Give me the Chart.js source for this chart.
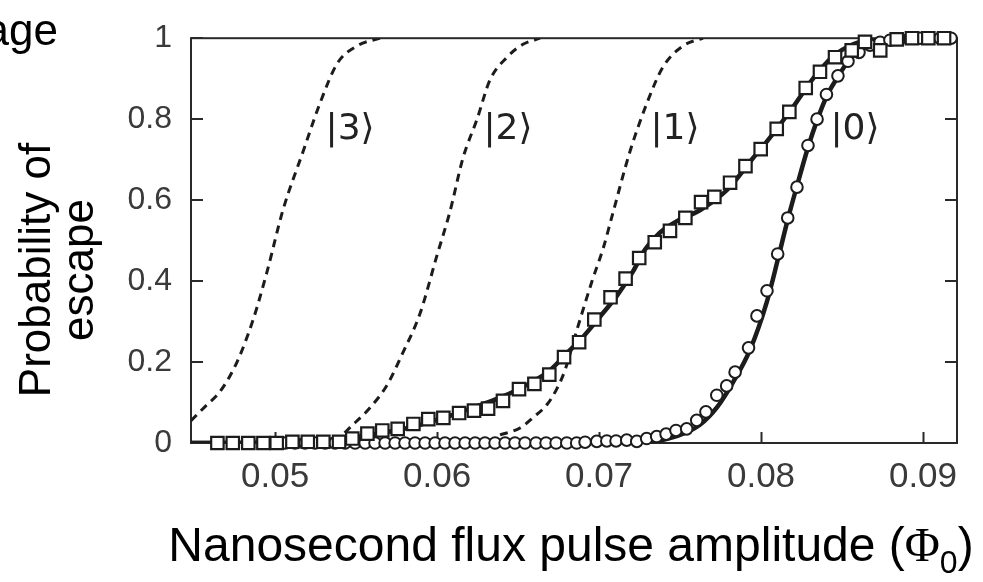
<!DOCTYPE html>
<html>
<head>
<meta charset="utf-8">
<script src="https://cdn.jsdelivr.net/npm/chart.js@4.4.1/dist/chart.umd.min.js"></script>
<style>
html,body{margin:0;padding:0;background:#ffffff;}
#wrap{width:983px;height:582px;position:relative;}
canvas{display:block;}
</style>
</head>
<body>
<div id="wrap"><canvas id="c" width="983" height="582"></canvas></div>
<script>
// ---------- data ----------
const xTickValues = [0.05, 0.06, 0.07, 0.08, 0.09];
const yTickValues = [0, 0.2, 0.4, 0.6, 0.8, 1];
const xAxisTitle = 'Nanosecond flux pulse amplitude (';
const xAxisSymbol = 'Φ';
const xAxisSub = '0';
const yAxisTitle = ['Probability of', 'escape'];
const cornerText = 'age';

// measured escape probability, squares (|1> prepared)
const squareX = [0.04644,0.04739,0.04835,0.04928,0.05010,0.05107,0.05202,0.05298,0.05395,0.05477,0.05570,0.05662,0.05757,0.05854,0.05946,0.06039,0.06136,0.06228,0.06315,0.06407,0.06506,0.06601,0.06693,0.06784,0.06877,0.06971,0.07071,0.07164,0.07248,0.07344,0.07438,0.07533,0.07630,0.07712,0.07809,0.07904,0.07998,0.08097,0.08175,0.08276,0.08364,0.08457,0.08560,0.08642,0.08736,0.08838,0.08932,0.09033,0.09130];
const squareY = [0,0,0,0,0,0.003,0.003,0.003,0.003,0.011,0.023,0.031,0.035,0.047,0.059,0.062,0.074,0.080,0.085,0.104,0.133,0.146,0.169,0.212,0.249,0.305,0.360,0.406,0.457,0.496,0.524,0.556,0.595,0.608,0.643,0.684,0.726,0.776,0.818,0.877,0.917,0.953,0.970,0.991,0.970,0.997,1.0,1.0,1.0];

// measured escape probability, circles (|0> prepared)
const circleX = [0.05062,0.05123,0.05185,0.05247,0.05309,0.05370,0.05432,0.05494,0.05556,0.05617,0.05679,0.05741,0.05802,0.05864,0.05926,0.05988,0.06049,0.06111,0.06173,0.06235,0.06296,0.06358,0.06420,0.06481,0.06543,0.06611,0.06673,0.06735,0.06801,0.06862,0.06914,0.06986,0.07048,0.07105,0.07171,0.07233,0.07294,0.07356,0.07414,0.07475,0.07541,0.07603,0.07660,0.07727,0.07788,0.07840,0.07923,0.07975,0.08037,0.08103,0.08165,0.08222,0.08290,0.08346,0.08404,0.08475,0.08537,0.08605,0.08673,0.08735,0.08796,0.08858,0.08920,0.08981,0.09043,0.09105,0.09173];
const circleY = [0,0,0,0,0,0,0,0,0,0,0,0,0,0,0,0,0,0,0,0,0,0,0,0,0,0,0,0,0,0,0.002,0.004,0.005,0.005,0.007,0.004,0.011,0.016,0.022,0.031,0.035,0.056,0.077,0.118,0.141,0.175,0.235,0.314,0.376,0.467,0.556,0.632,0.735,0.800,0.861,0.907,0.943,0.965,0.983,0.990,0.995,0.998,1,1,1,1,1];

// solid fit curves
const fit1X = [0.04481,0.05093,0.05340,0.05586,0.05852,0.06062,0.06204,0.06389,0.06574,0.06698,0.06802,0.06901,0.07006,0.07111,0.07210,0.07284,0.07377,0.07481,0.07623,0.07790,0.07951,0.08037,0.08198,0.08321,0.08444,0.08568,0.08673,0.08796,0.09210];
const fit1Y = [0,0.002,0.008,0.020,0.040,0.065,0.085,0.112,0.148,0.180,0.222,0.262,0.312,0.364,0.424,0.478,0.520,0.548,0.575,0.625,0.704,0.745,0.830,0.900,0.955,0.985,0.997,1.0,1.0];
const fit0X = [0.04481,0.07253,0.07333,0.07438,0.07531,0.07623,0.07728,0.07827,0.07932,0.08037,0.08105,0.08167,0.08222,0.08290,0.08346,0.08407,0.08475,0.08537,0.08611,0.08704,0.08827,0.09210];
const fit0Y = [0,0,0.003,0.012,0.025,0.045,0.088,0.150,0.230,0.350,0.455,0.555,0.635,0.730,0.797,0.858,0.905,0.942,0.972,0.990,1.0,1.0];

// dashed curves for |3>, |2>, |1>
const ket3X = [0.04481,0.04568,0.04660,0.04765,0.04864,0.04951,0.05049,0.05173,0.05278,0.05383,0.05506,0.05648];
const ket3Y = [0.055,0.090,0.127,0.200,0.304,0.424,0.576,0.720,0.840,0.937,0.981,1.0];
const ket2X = [0.05370,0.05444,0.05586,0.05691,0.05790,0.05895,0.06000,0.06080,0.06160,0.06247,0.06327,0.06432,0.06531,0.06636];
const ket2Y = [0.0,0.031,0.087,0.143,0.224,0.320,0.464,0.572,0.704,0.800,0.897,0.953,0.985,1.0];
const ket1X = [0.06389,0.06512,0.06593,0.06679,0.06741,0.06790,0.06864,0.06957,0.07025,0.07080,0.07191,0.07296,0.07395,0.07519,0.07642];
const ket1Y = [0.020,0.037,0.063,0.095,0.135,0.180,0.280,0.400,0.480,0.560,0.720,0.840,0.929,0.981,1.0];

// state labels and where they sit (data coordinates)
const stateLabels = ['|3⟩', '|2⟩', '|1⟩', '|0⟩'];
const stateLabelX = [0.05463, 0.06438, 0.07469, 0.08580];
const stateLabelY = [0.774, 0.774, 0.774, 0.774];

// ---------- chart ----------
const pts = (xs, ys) => xs.map((v, i) => ({x: v, y: ys[i]}));
const INK = '#1c1c1c';

const decor = {
  id: 'decor',
  beforeDraw(chart) {
    const ctx = chart.ctx;
    ctx.save();
    ctx.fillStyle = '#ffffff';
    ctx.fillRect(0, 0, chart.width, chart.height);
    ctx.restore();
  },
  beforeDatasetsDraw(chart) {
    const {ctx, chartArea: a, scales: {x, y}} = chart;
    ctx.save();
    ctx.strokeStyle = '#2a2a2a';
    ctx.lineWidth = 2;
    ctx.strokeRect(a.left, a.top, a.right - a.left, a.bottom - a.top);
    ctx.beginPath();
    xTickValues.forEach(v => {
      const px = Math.round(x.getPixelForValue(v)) + 0.5;
      ctx.moveTo(px, a.bottom); ctx.lineTo(px, a.bottom - 11);
    });
    yTickValues.forEach(v => {
      const py = Math.round(y.getPixelForValue(v));
      ctx.moveTo(a.left, py); ctx.lineTo(a.left + 12, py);
      ctx.moveTo(a.right, py); ctx.lineTo(a.right - 12, py);
    });
    ctx.stroke();
    ctx.restore();
  },
  afterDraw(chart) {
    const {ctx, scales: {x, y}} = chart;
    ctx.save();
    // state labels
    ctx.font = '36px "DejaVu Sans", sans-serif';
    ctx.fillStyle = '#222222';
    ctx.textAlign = 'center';
    ctx.textBaseline = 'middle';
    stateLabels.forEach((t, i) => {
      ctx.fillText(t, x.getPixelForValue(stateLabelX[i]), y.getPixelForValue(stateLabelY[i]));
    });
    // x axis title
    ctx.fillStyle = '#000000';
    ctx.textBaseline = 'alphabetic';
    ctx.textAlign = 'left';
    const fMain = '48px "Liberation Sans", Arial, sans-serif';
    const fPhi = '48px "Liberation Serif", "Times New Roman", serif';
    const fSub = '32px "Liberation Sans", Arial, sans-serif';
    ctx.font = fMain; const w1 = ctx.measureText(xAxisTitle).width; const wClose = ctx.measureText(')').width;
    ctx.font = fPhi; const w2 = ctx.measureText(xAxisSymbol).width;
    ctx.font = fSub; const w3 = ctx.measureText(xAxisSub).width;
    const total = w1 + w2 + w3 + wClose;
    let cx = 571 - total / 2;
    const base = 561;
    ctx.font = fMain; ctx.fillText(xAxisTitle, cx, base); cx += w1;
    ctx.font = fPhi; ctx.fillText(xAxisSymbol, cx, base); cx += w2;
    ctx.font = fSub; ctx.fillText(xAxisSub, cx, base + 12); cx += w3;
    ctx.font = fMain; ctx.fillText(')', cx, base);
    // y axis title
    ctx.font = '44px "Liberation Sans", Arial, sans-serif';
    ctx.textAlign = 'center';
    const yBases = [50, 93];
    yAxisTitle.forEach((t, i) => {
      ctx.save();
      ctx.translate(yBases[i], 270);
      ctx.rotate(-Math.PI / 2);
      ctx.fillText(t, 0, 0);
      ctx.restore();
    });
    // cut-off text in the corner
    ctx.textAlign = 'right';
    ctx.fillText(cornerText, 58, 45);
    ctx.restore();
  }
};

const lineDs = (xs, ys, w, dash, order) => ({
  data: pts(xs, ys), showLine: true, borderColor: INK, borderWidth: w,
  borderDash: dash, pointRadius: 0, pointHoverRadius: 0, fill: false,
  cubicInterpolationMode: 'monotone', order
});

new Chart(document.getElementById('c'), {
  type: 'scatter',
  data: {
    datasets: [
      {
        data: pts(squareX, squareY), pointStyle: 'rect', pointRadius: 8.8,
        pointBorderWidth: 2.2, pointBackgroundColor: '#ffffff', pointBorderColor: INK,
        showLine: false, clip: false, order: 0
      },
      {
        data: pts(circleX, circleY), pointStyle: 'circle', pointRadius: 5.8,
        pointBorderWidth: 2, pointBackgroundColor: '#ffffff', pointBorderColor: INK,
        showLine: false, clip: false, order: 1
      },
      lineDs(fit1X, fit1Y, 4.5, [], 2),
      lineDs(fit0X, fit0Y, 4.5, [], 3),
      lineDs(ket3X, ket3Y, 3, [8, 6], 4),
      lineDs(ket2X, ket2Y, 3, [8, 6], 5),
      lineDs(ket1X, ket1Y, 3, [8, 6], 6)
    ]
  },
  options: {
    responsive: false,
    animation: false,
    devicePixelRatio: 1,
    layout: {padding: {left: 0, right: 26, top: 27, bottom: 0}},
    plugins: {legend: {display: false}, tooltip: {enabled: false}},
    events: [],
    scales: {
      x: {
        type: 'linear', min: 0.04481, max: 0.0921,
        afterBuildTicks: s => { s.ticks = xTickValues.map(v => ({value: v})); },
        afterFit: s => { s.height = 139; },
        grid: {display: false, drawTicks: false},
        border: {display: false},
        ticks: {
          padding: 13, color: '#3a3a3a', maxRotation: 0, autoSkip: false,
          font: {family: '"Liberation Sans", Arial, sans-serif', size: 35},
          callback: v => String(v)
        }
      },
      y: {
        type: 'linear', min: 0, max: 1,
        afterBuildTicks: s => { s.ticks = yTickValues.map(v => ({value: v})); },
        afterFit: s => { s.width = 191; },
        grid: {display: false, drawTicks: false},
        border: {display: false},
        ticks: {
          padding: 19, color: '#3a3a3a', autoSkip: false,
          font: {family: '"Liberation Sans", Arial, sans-serif', size: 32},
          callback: v => String(v)
        }
      }
    }
  },
  plugins: [decor]
});
</script>
</body>
</html>
